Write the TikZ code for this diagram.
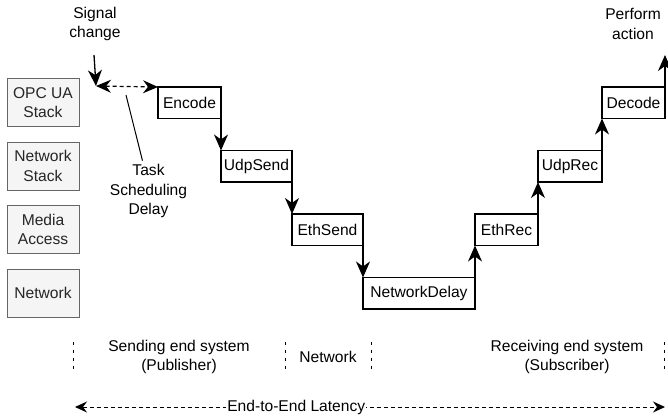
\documentclass[tikz,border=0pt]{standalone}
\usepackage{fontspec}
\setmainfont{Liberation Sans}
\usepackage{xcolor}
\usetikzlibrary{arrows.meta,positioning,calc}

\begin{document}
\begin{tikzpicture}[
    x=1pt, y=-1pt,
    font=\fontsize{15.6}{19.5}\selectfont,
    node distance=15.5pt and 0pt,
    layer/.style={rectangle, draw=black!60, fill=black!4, line width=1pt, align=center, minimum width=72pt, minimum height=48pt, inner sep=0pt, outer sep=0pt, text=black!85},
    stepbox/.style={rectangle, draw=black, fill=white, line width=1.3pt, minimum height=31.5pt, inner sep=0pt, outer sep=0pt},
    arrow/.style={-{Stealth[length=16pt,width=14pt,inset=5pt]}, line width=1.3pt},
    dasharrow/.style={{Stealth[length=15pt,width=13pt,inset=5pt]}-{Stealth[length=15pt,width=13pt,inset=5pt]}, line width=1.2pt, dash pattern=on 4pt off 3pt},
    latarrow/.style={{Stealth[length=12pt,width=11pt,inset=4pt]}-{Stealth[length=12pt,width=11pt,inset=4pt]}, line width=1pt, dash pattern=on 4pt off 3pt},
    border/.style={line width=1pt, dash pattern=on 3pt off 5pt},
    label/.style={align=center}
]
    \useasboundingbox (0,0) rectangle (668,417);

    % layers on the left
    \node [layer] (opc) at (43,102.5) {OPC UA\\Stack};
    \node [layer, below=of opc] (nst) {Network\\Stack};
    \node [layer, below=of nst] (mac) {Media\\Access};
    \node [layer, below=of mac] (phy) {Network};

    % staircase
    \node [stepbox, minimum width=63pt, anchor=north west] (enc) at (158,87) {Encode};
    \node [stepbox, minimum width=71pt, below right=32pt and 0pt of enc.south east] (udps) {UdpSend};
    \node [stepbox, minimum width=71pt, below right=32pt and 0pt of udps.south east] (eths) {EthSend};
    \node [stepbox, minimum width=112pt, below right=32pt and 0pt of eths.south east] (netd) {NetworkDelay};
    \node [stepbox, minimum width=63pt, above right=32pt and 0pt of netd.north east] (ethr) {EthRec};
    \node [stepbox, minimum width=64pt, above right=32pt and 0pt of ethr.north east] (udpr) {UdpRec};
    \node [stepbox, minimum width=63pt, above right=32pt and 0pt of udpr.north east] (dec) {Decode};

    \draw [arrow] (enc.south east) -- (udps.north west);
    \draw [arrow] (udps.south east) -- (eths.north west);
    \draw [arrow] (eths.south east) -- (netd.north west);
    \draw [arrow] (netd.north east) -- (ethr.south west);
    \draw [arrow] (ethr.north east) -- (udpr.south west);
    \draw [arrow] (udpr.north east) -- (dec.south west);

    % start and end
    \node [label] (sig) at (95,24) {Signal\\change};
    \node [label] (act) at (633,24) {Perform\\action};
    \coordinate (sigtop) at (94,55);
    \coordinate (trig) at (96,86);
    \coordinate [above=32pt of dec.north east] (actend);
    \draw [arrow] (sigtop) -- (trig);
    \draw [arrow] (dec.north east) -- (actend);

    % scheduling delay
    \draw [dasharrow] (trig) -- (enc.north west);
    \node [label] (tsd) at (148.5,191) {Task\\Scheduling\\Delay};
    \coordinate (tsdp) at (126,95);
    \draw [line width=1pt] (tsdp) -- ([xshift=-6pt]tsd.north);

    % bottom
    \foreach \x in {73,285,371,664}
        \draw [border] (\x,342) -- (\x,372);
    \node [label] (send) at (179,357) {Sending end system\\(Publisher)};
    \node [label] (net) at (328,357) {Network};
    \node [label] (recv) at (567,357) {Receiving end system\\(Subscriber)};
    \coordinate (lat1) at (75,407);
    \coordinate (lat2) at (665,407);
    \draw [latarrow] (lat1) -- node [pos=0.375, fill=white, inner sep=1pt] (lat) {End-to-End Latency} (lat2);
\end{tikzpicture}
\end{document}
